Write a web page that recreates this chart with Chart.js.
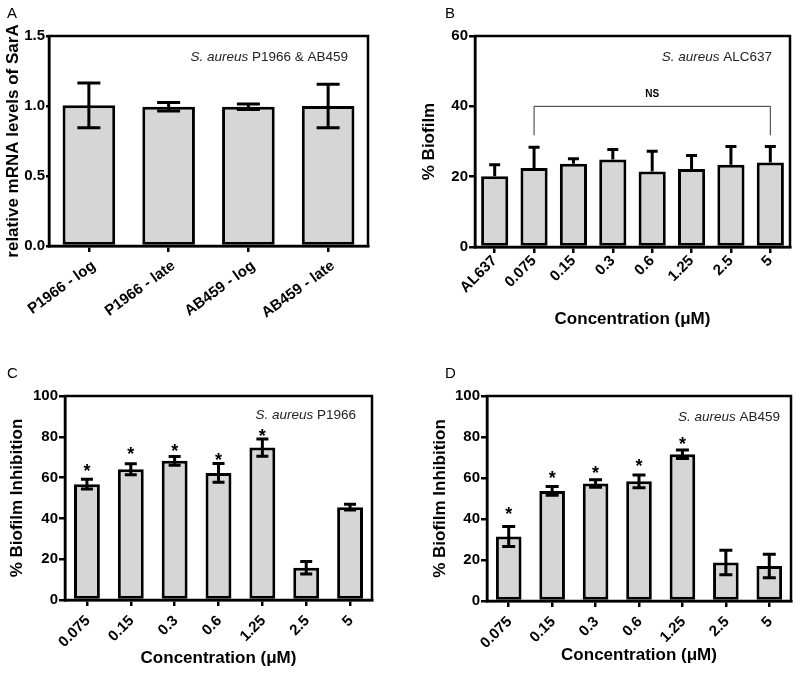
<!DOCTYPE html>
<html>
<head>
<meta charset="utf-8">
<script src="https://cdn.jsdelivr.net/npm/chart.js@4.4.1/dist/chart.umd.min.js"></script>
<style>
  body { margin: 0; background: #fff; }
  #wrap { position: relative; width: 800px; height: 674px; }
  canvas { position: absolute; }
  .tag { position: absolute; font: 15px 'Liberation Sans', Arial, sans-serif; line-height: 1; color: #000; }
</style>
</head>
<body>
<div id="wrap">
  <canvas id="cA" width="400" height="330" style="left:0;top:0"></canvas>
  <canvas id="cB" width="400" height="330" style="left:400px;top:0"></canvas>
  <canvas id="cC" width="400" height="344" style="left:0;top:330px"></canvas>
  <canvas id="cD" width="400" height="344" style="left:400px;top:330px"></canvas>
  <div class="tag" style="left:7px;top:5px">A</div>
  <div class="tag" style="left:445px;top:5px">B</div>
  <div class="tag" style="left:7px;top:365px">C</div>
  <div class="tag" style="left:445px;top:365px">D</div>
</div>
<script>
// panel A: SarA expression
const aLabels = ['P1966 - log', 'P1966 - late', 'AB459 - log', 'AB459 - late'];
const aMeans = [1.005, 0.995, 0.995, 1.0];
const aErr = [0.16, 0.03, 0.02, 0.155];

// panel B: biofilm of ALC637 (upper error only)
const bLabels = ['AL637', '0.075', '0.15', '0.3', '0.6', '1.25', '2.5', '5'];
const bMeans = [20.1, 22.5, 23.7, 24.9, 21.5, 22.2, 23.4, 24.0];
const bErr = [3.3, 5.9, 1.4, 2.8, 5.7, 3.8, 5.2, 4.6];
const bBracket = [40, 31.75, 43.3]; // line level, foot level, NS label level

// panels C and D: biofilm inhibition
const concLabels = ['0.075', '0.15', '0.3', '0.6', '1.25', '2.5', '5'];
const cMeans = [56.8, 64.1, 68.2, 62.3, 74.7, 15.8, 45.5];
const cErr = [2.4, 2.7, 2.1, 4.6, 4.2, 3.1, 1.4];
const cStars = [65.4, 73.9, 75.3, 70.8, 82.7, null, null];
const dMeans = [31.5, 53.7, 57.3, 58.4, 71.6, 18.8, 17.1];
const dErr = [4.9, 2.1, 1.8, 3.1, 2.1, 6.0, 5.7];
const dStars = [44.4, 62.3, 64.6, 67.7, 78.6, null, null];

const FONT = "'Liberation Sans', Arial, sans-serif";
Chart.defaults.font.family = FONT;
Chart.defaults.color = '#000';

function panel(id, p) {
  const extras = {
    id: 'extras',
    afterDatasetsDraw(chart) {
      const { ctx, chartArea: ca, scales: { x, y } } = chart;
      ctx.save();
      ctx.strokeStyle = '#000';
      ctx.lineWidth = 3;
      // error bars
      p.means.forEach((m, i) => {
        const px = x.getPixelForValue(i);
        const top = y.getPixelForValue(m + p.errs[i]);
        const bot = y.getPixelForValue(p.upOnly ? m : m - p.errs[i]);
        ctx.beginPath();
        ctx.moveTo(px, top); ctx.lineTo(px, bot);
        ctx.moveTo(px - p.cap / 2, top); ctx.lineTo(px + p.cap / 2, top);
        if (!p.upOnly) { ctx.moveTo(px - p.cap / 2, bot); ctx.lineTo(px + p.cap / 2, bot); }
        ctx.stroke();
      });
      // frame
      ctx.lineWidth = 2.5;
      ctx.strokeRect(ca.left, ca.top, ca.right - ca.left, ca.bottom - ca.top);
      // stars
      if (p.stars) {
        ctx.fillStyle = '#000';
        ctx.font = 'bold 18px ' + FONT;
        ctx.textAlign = 'center';
        ctx.textBaseline = 'alphabetic';
        p.stars.forEach((s, i) => {
          if (s == null) return;
          ctx.fillText('*', x.getPixelForValue(i), y.getPixelForValue(s) + 0.57 * 18);
        });
      }
      // NS bracket
      if (p.bracket) {
        const [lvl, foot, lab] = p.bracket;
        const x1 = x.getPixelForValue(p.bracketFrom), x2 = x.getPixelForValue(p.bracketTo);
        ctx.strokeStyle = '#333';
        ctx.lineWidth = 1;
        ctx.beginPath();
        ctx.moveTo(x1, y.getPixelForValue(foot));
        ctx.lineTo(x1, y.getPixelForValue(lvl));
        ctx.lineTo(x2, y.getPixelForValue(lvl));
        ctx.lineTo(x2, y.getPixelForValue(foot));
        ctx.stroke();
        ctx.fillStyle = '#000';
        ctx.font = 'bold 10px ' + FONT;
        ctx.textAlign = 'center';
        ctx.textBaseline = 'middle';
        ctx.fillText('NS', (x1 + x2) / 2, y.getPixelForValue(lab));
      }
      // strain note, italic species + plain strain
      ctx.fillStyle = '#222';
      ctx.textBaseline = 'middle';
      ctx.textAlign = 'left';
      ctx.font = '13.5px ' + FONT;
      const wRest = ctx.measureText(p.note[1]).width;
      ctx.font = 'italic 13.5px ' + FONT;
      const wIt = ctx.measureText(p.note[0]).width;
      const nx = ca.right - p.noteRight - wRest - wIt;
      const ny = ca.top + p.noteTop;
      ctx.fillText(p.note[0], nx, ny);
      ctx.font = '13.5px ' + FONT;
      ctx.fillText(p.note[1], nx + wIt, ny);
      ctx.restore();
    }
  };

  const tickGrid = { display: true, drawOnChartArea: false, color: '#000', lineWidth: 2.5, tickLength: p.tickLen };
  return new Chart(document.getElementById(id), {
    type: 'bar',
    data: {
      labels: p.labels,
      datasets: [{
        data: p.means,
        backgroundColor: '#d6d6d6',
        borderColor: '#000',
        borderWidth: 3,
        borderSkipped: false,
        barPercentage: p.barPct,
        categoryPercentage: 1
      }]
    },
    options: {
      responsive: false,
      animation: false,
      devicePixelRatio: 1,
      layout: { padding: { top: p.padTop, right: p.padRight, left: 0, bottom: 0 } },
      plugins: { legend: { display: false }, tooltip: { enabled: false } },
      scales: {
        x: {
          grid: { ...tickGrid, offset: false, tickLength: 6 },
          border: { display: true, color: '#000', width: 2.5 },
          ticks: {
            font: { size: 15, weight: 'bold' }, minRotation: p.xRot, maxRotation: p.xRot,
            padding: p.xPad, labelOffset: p.xShift, autoSkip: false
          },
          title: { display: !!p.xTitle, text: p.xTitle || '', font: { size: 17, weight: 'bold' }, padding: { top: 0, bottom: p.xTitlePad || 0 } },
          afterFit: s => { s.height = p.xHeight; }
        },
        y: {
          min: p.yMin,
          max: p.yMax,
          grid: tickGrid,
          border: { display: true, color: '#000', width: 2.5 },
          ticks: { stepSize: p.step, font: { size: p.yTickSize, weight: 'bold' }, padding: 1, callback: v => v.toFixed(p.decimals) },
          title: { display: true, text: p.yTitle, font: { size: 17, weight: 'bold' }, padding: { top: p.yTitlePad, bottom: 0 } },
          afterFit: s => { s.width = p.yWidth; }
        }
      }
    },
    plugins: [extras]
  });
}

panel('cA', {
  labels: aLabels, means: aMeans, errs: aErr, cap: 23, barPct: 0.66,
  yMin: 0, yMax: 1.5, step: 0.5, decimals: 1, yTickSize: 15, tickLen: 3,
  yTitle: 'relative mRNA levels of SarA', yTitlePad: 3,
  xRot: 36, xPad: 5, xShift: 5,
  yWidth: 49, xHeight: 84, padTop: 36, padRight: 32,
  note: ['S. aureus', ' P1966 & AB459'], noteRight: 20, noteTop: 21
});

panel('cB', {
  labels: bLabels, means: bMeans, errs: bErr, upOnly: true, cap: 11, barPct: 0.69,
  yMin: 0, yMax: 60, step: 20, decimals: 0, yTickSize: 15, tickLen: 6,
  yTitle: '% Biofilm', yTitlePad: 19,
  xRot: 45, xPad: -1, xShift: 0,
  xTitle: 'Concentration (\u03bcM)', xTitlePad: 0,
  yWidth: 75, xHeight: 83, padTop: 36, padRight: 10,
  bracket: bBracket, bracketFrom: 1, bracketTo: 7,
  note: ['S. aureus', ' ALC637'], noteRight: 18, noteTop: 21
});

panel('cC', {
  labels: concLabels, means: cMeans, errs: cErr, stars: cStars, cap: 12, barPct: 0.59,
  yMin: 0, yMax: 100, step: 20, decimals: 0, yTickSize: 15, tickLen: 6,
  yTitle: '% Biofilm Inhibition', yTitlePad: 7,
  xRot: 45, xPad: 6, xShift: 1,
  xTitle: 'Concentration (\u03bcM)', xTitlePad: 5,
  yWidth: 65, xHeight: 74, padTop: 66, padRight: 28,
  note: ['S. aureus', ' P1966'], noteRight: 16, noteTop: 19
});

panel('cD', {
  labels: concLabels, means: dMeans, errs: dErr, stars: dStars, cap: 13, barPct: 0.59,
  yMin: 0, yMax: 100, step: 20, decimals: 0, yTickSize: 15, tickLen: 6,
  yTitle: '% Biofilm Inhibition', yTitlePad: 30,
  xRot: 45, xPad: 6, xShift: 1,
  xTitle: 'Concentration (\u03bcM)', xTitlePad: 8,
  yWidth: 87, xHeight: 73, padTop: 66, padRight: 9,
  note: ['S. aureus', ' AB459'], noteRight: 11, noteTop: 21
});
</script>
</body>
</html>
